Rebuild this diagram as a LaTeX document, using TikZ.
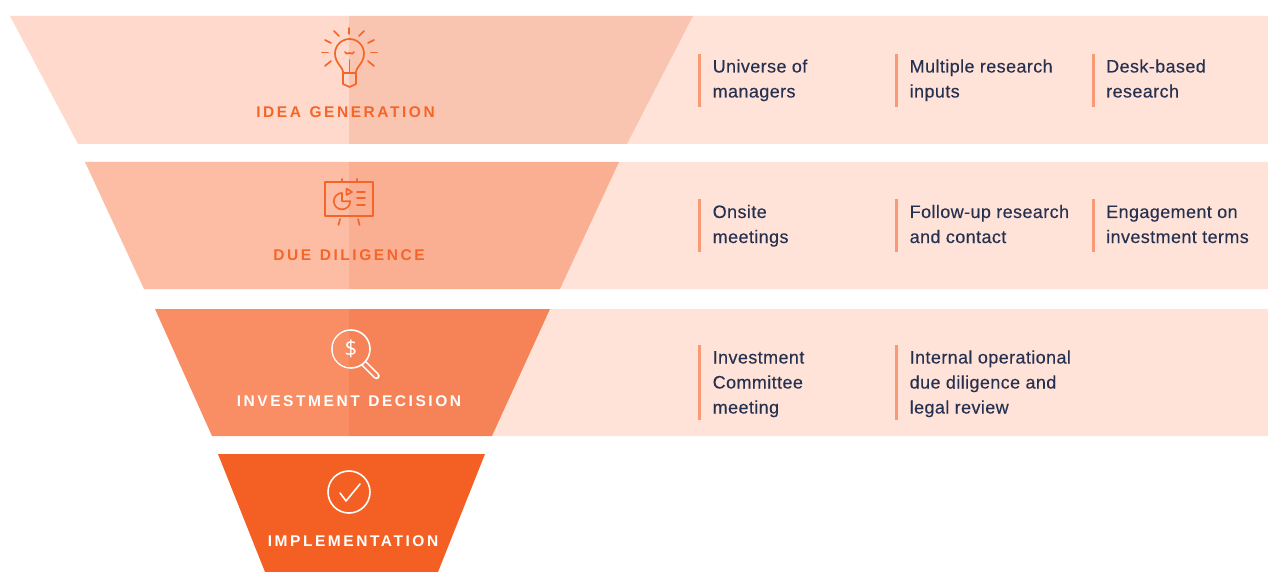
\documentclass[tikz,border=0pt]{standalone}
\usepackage{fontspec}
\setmainfont[LetterSpace=2.2,FakeBold=0.15]{Liberation Sans}
\newfontfamily\headfont[LetterSpace=16.5,WordSpace=1.25]{Liberation Sans}
\newfontfamily\dollarfont{Open Sans}
\newcommand\bt[1]{\rule{0pt}{14pt}#1\rule[-5pt]{0pt}{5pt}}
\definecolor{panel}{HTML}{FFE3D9}
\definecolor{aL}{HTML}{FFD9CB}
\definecolor{aR}{HTML}{FAC5B0}
\definecolor{bL}{HTML}{FDBDA4}
\definecolor{bR}{HTML}{FBAF92}
\definecolor{cL}{HTML}{F98D63}
\definecolor{cR}{HTML}{F68258}
\definecolor{dd}{HTML}{F45F23}
\definecolor{ink}{HTML}{26304F}
\definecolor{tick}{HTML}{F89A75}
\definecolor{org}{HTML}{F4652A}
\tikzset{
  x=1pt,y=-1pt,
  body/.style={anchor=west,align=left,font=\fontsize{18}{25}\selectfont,text=ink,inner sep=0pt},
  head/.style={anchor=center,inner sep=0pt,font=\fontsize{15.5}{16}\selectfont\headfont\bfseries},
  tickline/.style={draw=tick,line width=2.2pt},
  icon/.style={draw=org,line width=1.7pt,line cap=round,line join=round,fill=none},
  iconw/.style={draw=white,line width=1.6pt,line cap=round,line join=round,fill=none},
}
\begin{document}
\begin{tikzpicture}
\useasboundingbox (0,0) rectangle (1268,572);
\fill[white] (0,0) rectangle (1268,572);
% panels
\fill[panel] (693,16) -- (1268,16) -- (1268,144) -- (627,144) -- cycle;
\fill[panel] (619,162) -- (1268,162) -- (1268,289) -- (560,289) -- cycle;
\fill[panel] (550,309) -- (1268,309) -- (1268,436) -- (492,436) -- cycle;
% funnel
\fill[aL] (10,16) -- (349,16) -- (349,144) -- (78,144) -- cycle;
\fill[aR] (349,16) -- (693,16) -- (627,144) -- (349,144) -- cycle;
\fill[bL] (85,162) -- (349,162) -- (349,289) -- (144,289) -- cycle;
\fill[bR] (349,162) -- (619,162) -- (560,289) -- (349,289) -- cycle;
\fill[cL] (155,309) -- (349,309) -- (349,436) -- (212,436) -- cycle;
\fill[cR] (349,309) -- (550,309) -- (492,436) -- (349,436) -- cycle;
\fill[dd] (218,454) -- (485,454) -- (438,572) -- (265,572) -- cycle;
% headings
\node[head,text=org] (h1) at (345.5,112) {IDEA GENERATION};
\node[head,text=org] (h2) at (349,255) {DUE DILIGENCE};
\node[head,text=white] (h3) at (349,401) {INVESTMENT DECISION};
\node[head,text=white] (h4) at (353,541) {IMPLEMENTATION};
% bulb
\draw[icon] (343.5,73) .. controls (343,67) and (335,63) .. (335,53.5) arc[start angle=180,end angle=360,radius=14.5] .. controls (364,63) and (356,67) .. (355.5,73);
\draw[icon] (343,73) -- (356,73) -- (356,84) -- (349.5,87) -- (343,84) -- cycle;
\draw[icon] (349.5,73) -- (349.5,60);
\draw[icon] (345,52) .. controls (346,55) and (347,53) .. (349.5,53) .. controls (352,53) and (353,55) .. (354,52);
\draw[icon] (349,28) -- (349,34);
\draw[icon] (334,31) -- (339,36);
\draw[icon] (364,31) -- (359,36);
\draw[icon] (325,40) -- (331,43);
\draw[icon] (374,40) -- (368,43);
\draw[icon] (322,52.5) -- (328,52.5);
\draw[icon] (371,52.5) -- (377,52.5);
\draw[icon] (325,66) -- (331,61);
\draw[icon] (374,66) -- (368,61);
% board
\draw[icon] (325,182) rectangle (373,216);
\draw[icon] (342,179) -- (342,182);
\draw[icon] (357,179) -- (357,182);
\draw[icon] (340,219) -- (338.5,225);
\draw[icon] (358,219) -- (359.5,225);
\draw[icon] (342,193) arc[start angle=270,end angle=0,radius=8.2] -- (342,201.2) -- cycle;
\draw[icon] (346.5,188.5) -- (346.5,195) -- (352,192) -- cycle;
\draw[icon] (357,192) -- (365,192);
\draw[icon] (357,198) -- (365,198);
\draw[icon] (357,205) -- (365,205);
% magnifier
\draw[draw=white,line width=6.5pt,line cap=round] (364.5,364) -- (376.5,376);
\draw[draw=cR,line width=3.5pt,line cap=round] (364.5,364) -- (376.5,376);
\draw[iconw,fill=cR] (351,349) circle[radius=19];
\fill[cL] (349,331) arc[start angle=-96,end angle=-264,radius=18.2] -- cycle;
\node[inner sep=0pt,text=white,font=\fontsize{22}{22}\selectfont\dollarfont] (dollar) at (351,348.5) {\$};
% check
\draw[iconw] (349,492) circle[radius=21];
\draw[iconw] (340,493) -- (346,501) -- (360,484);
% ticks
\foreach \x in {699.5,896.5,1093.5} \draw[tickline] (\x,54) -- (\x,107);
\foreach \x in {699.5,896.5,1093.5} \draw[tickline] (\x,199) -- (\x,252);
\foreach \x in {699.5,896.5} \draw[tickline] (\x,345) -- (\x,420);
% body
\node[body] (a1) at (712.5,80.5) {\bt{Universe of\\managers}};
\node[body] (a2) at (909.5,80.5) {\bt{Multiple research\\inputs}};
\node[body] (a3) at (1106,80.5) {\bt{Desk-based\\research}};
\node[body] (b1) at (712.5,226) {\bt{Onsite\\meetings}};
\node[body] (b2) at (909.5,226) {\bt{Follow-up research\\and contact}};
\node[body] (b3) at (1106,226) {\bt{Engagement on\\investment terms}};
\node[body] (c1) at (712.5,384) {\bt{Investment\\Committee\\meeting}};
\node[body] (c2) at (909.5,384) {\bt{Internal operational\\due diligence and\\legal review}};
\end{tikzpicture}
\end{document}
